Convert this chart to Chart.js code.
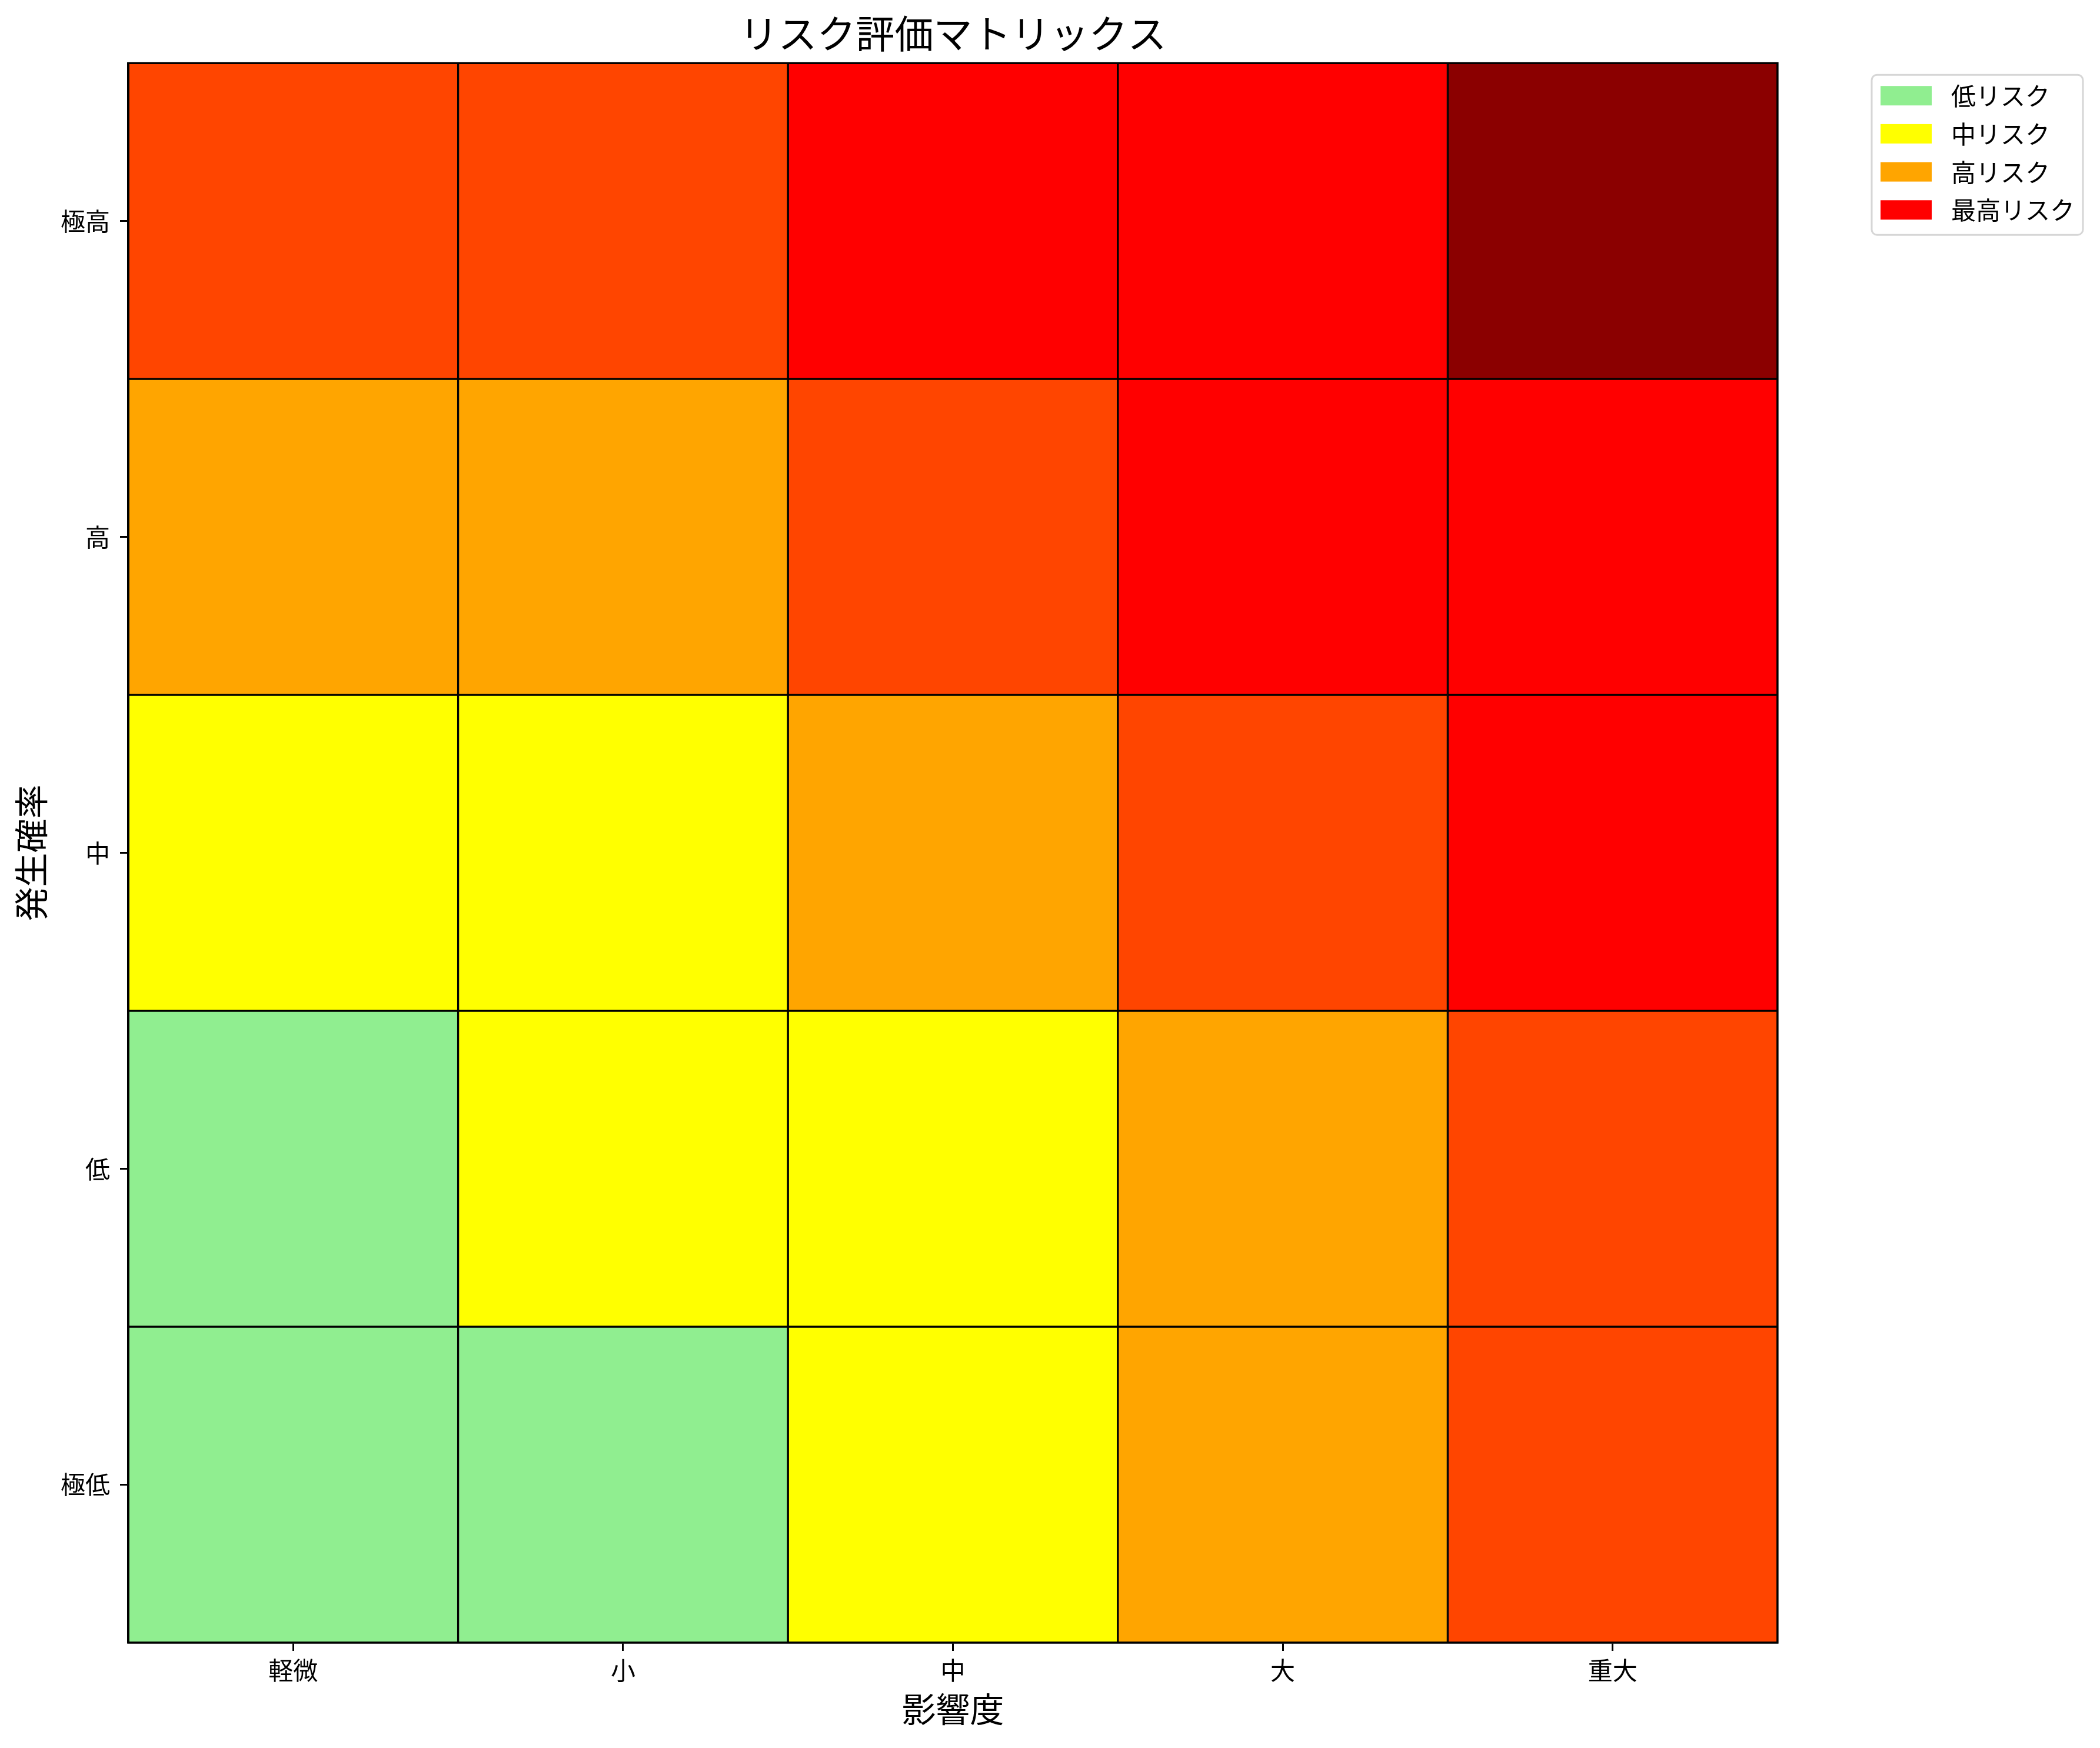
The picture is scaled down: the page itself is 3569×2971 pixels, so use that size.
<!DOCTYPE html>
<html>
<head>
<meta charset="utf-8">
<script src="https://cdn.jsdelivr.net/npm/chart.js@4/dist/chart.umd.min.js"></script>
<style>
html,body{margin:0;padding:0;background:#ffffff;}
#wrap{width:3569px;height:2971px;}
canvas{display:block;}
</style>
</head>
<body>
<div id="wrap"><canvas id="c" width="3569" height="2971"></canvas></div>
<script>
// ---- data ----
const impactLabels = ['軽微', '小', '中', '大', '重大'];
const probabilityLabels = ['極高', '高', '中', '低', '極低']; // top to bottom
// risk level of each cell, rows top (極高) to bottom (極低), columns 軽微..重大
// 0 低 (lightgreen), 1 中 (yellow), 2 高 (orange), 3 (orangered), 4 最高 (red), 5 (darkred)
const riskLevels = [
  [3, 3, 4, 4, 5],
  [2, 2, 3, 4, 4],
  [1, 1, 2, 3, 4],
  [0, 1, 1, 2, 3],
  [0, 0, 1, 2, 3]
];
const cellSize = [1, 1, 1, 1, 1]; // each cell spans one probability unit
const levelColors = ['#90EE90', '#FFFF00', '#FFA500', '#FF4500', '#FF0000', '#8B0000'];
const legendLabels = ['低リスク', '中リスク', '高リスク', '最高リスク'];
const legendColors = ['#90EE90', '#FFFF00', '#FFA500', '#FF0000'];
const yTickValues = [0.5, 1.5, 2.5, 3.5, 4.5];
const titleText = 'リスク評価マトリックス';
const xTitleText = '影響度';
const yTitleText = '発生確率';

const FONT = "'Noto Sans CJK JP', 'DejaVu Sans', sans-serif";
const nRows = probabilityLabels.length;

// datasets stacked from the bottom row upward
const datasets = [];
for (let r = nRows - 1; r >= 0; r--) {
  datasets.push({
    label: probabilityLabels[r],
    data: cellSize.slice(),
    backgroundColor: riskLevels[r].map(l => levelColors[l]),
    borderColor: '#000000',
    borderWidth: 2,
    borderSkipped: false,
    barPercentage: 1.0,
    categoryPercentage: 1.0
  });
}

const framePlugin = {
  id: 'frame',
  afterDatasetsDraw(chart) {
    const {ctx, chartArea: a} = chart;
    ctx.save();
    ctx.strokeStyle = '#000000';
    ctx.lineWidth = 3.3;
    ctx.strokeRect(a.left, a.top, a.right - a.left, a.bottom - a.top);
    ctx.restore();
  }
};

const legendPlugin = {
  id: 'riskLegend',
  afterDraw(chart) {
    const {ctx, chartArea: a} = chart;
    const x0 = a.right + 160, y0 = a.top + 20, w = 359, h = 272, r = 9;
    ctx.save();
    ctx.beginPath();
    ctx.moveTo(x0 + r, y0);
    ctx.lineTo(x0 + w - r, y0);
    ctx.arcTo(x0 + w, y0, x0 + w, y0 + r, r);
    ctx.lineTo(x0 + w, y0 + h - r);
    ctx.arcTo(x0 + w, y0 + h, x0 + w - r, y0 + h, r);
    ctx.lineTo(x0 + r, y0 + h);
    ctx.arcTo(x0, y0 + h, x0, y0 + h - r, r);
    ctx.lineTo(x0, y0 + r);
    ctx.arcTo(x0, y0, x0 + r, y0, r);
    ctx.closePath();
    ctx.fillStyle = 'rgba(255,255,255,0.8)';
    ctx.fill();
    ctx.strokeStyle = '#d6d6d6';
    ctx.lineWidth = 3;
    ctx.stroke();
    ctx.font = '42px ' + FONT;
    ctx.textBaseline = 'middle';
    ctx.textAlign = 'left';
    legendLabels.forEach((lab, i) => {
      const py = y0 + 19 + i * 64.7;
      ctx.fillStyle = legendColors[i];
      ctx.fillRect(x0 + 15, py, 87, 33);
      ctx.fillStyle = '#000000';
      ctx.fillText(lab, x0 + 135, py + 17);
    });
    ctx.restore();
  }
};

new Chart(document.getElementById('c'), {
  type: 'bar',
  data: { labels: impactLabels, datasets },
  plugins: [framePlugin, legendPlugin],
  options: {
    responsive: false,
    devicePixelRatio: 1,
    animation: false,
    layout: { padding: { left: 0, right: 548, top: 0, bottom: 0 } },
    plugins: {
      legend: { display: false },
      tooltip: { enabled: false },
      title: {
        display: true,
        fullSize: false,
        text: titleText,
        color: '#000000',
        font: { family: FONT, size: 66, weight: 'normal', lineHeight: 1.2 },
        padding: { top: 17, bottom: 11 }
      }
    },
    scales: {
      x: {
        type: 'category',
        stacked: true,
        offset: true,
        afterFit(scale) { scale.height = 179; },
        grid: { display: true, offset: false, drawOnChartArea: false, drawTicks: true, tickLength: 14, tickColor: '#000000', tickWidth: 3 },
        border: { display: true, color: '#000000', width: 3.3 },
        ticks: { color: '#000000', font: { family: FONT, size: 42 }, padding: 8, maxRotation: 0 },
        title: { display: true, text: xTitleText, color: '#000000', font: { family: FONT, size: 58, lineHeight: 1.2 }, padding: { top: 0, bottom: 31 } }
      },
      y: {
        type: 'linear',
        stacked: true,
        min: 0,
        max: nRows,
        afterFit(scale) { scale.width = 218; },
        afterBuildTicks(scale) { scale.ticks = yTickValues.map(v => ({ value: v })); },
        grid: { display: true, drawOnChartArea: false, drawTicks: true, tickLength: 14, tickColor: '#000000', tickWidth: 3 },
        border: { display: true, color: '#000000', width: 3.3 },
        ticks: {
          color: '#000000',
          font: { family: FONT, size: 42 },
          padding: 17,
          callback: (v) => probabilityLabels[nRows - 1 - Math.floor(v)]
        },
        title: { display: true, text: yTitleText, color: '#000000', font: { family: FONT, size: 58, lineHeight: 1.2 }, padding: { top: 18, bottom: 0 } }
      }
    }
  }
});
</script>
</body>
</html>
